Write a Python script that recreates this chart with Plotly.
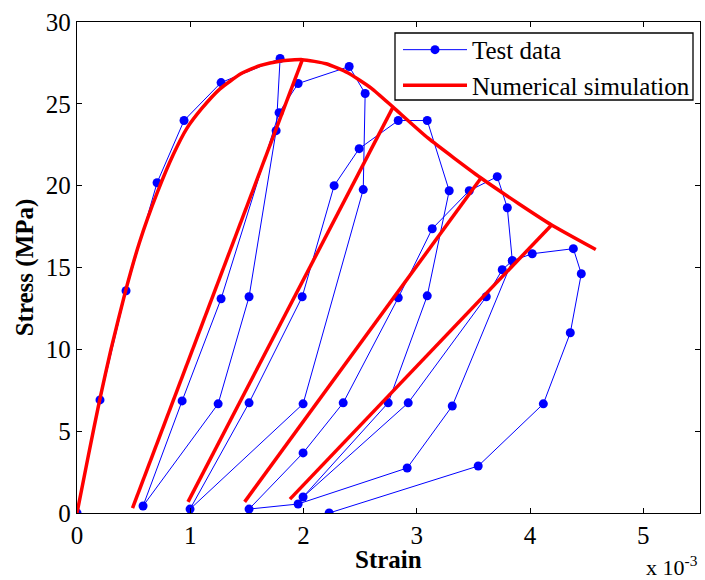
import plotly.graph_objects as go

# Test data (strain in 1e-3, stress in MPa), in plotting order
test_strain = [0.0, 0.203, 0.433, 0.707, 0.945, 1.272, 1.793, 1.758, 1.519, 1.246,
               0.583, 0.928, 1.272, 1.784, 1.952, 2.403, 2.544, 2.527, 1.996, 0.998,
               1.519, 1.988, 2.270, 2.491, 2.836, 3.092, 3.286, 3.092, 2.747, 1.996,
               2.924, 3.613, 3.754, 3.843, 3.313, 2.915, 1.952, 1.519, 1.996, 2.350,
               2.836, 3.136, 3.463, 3.710, 3.799, 3.843, 4.019, 4.382, 4.452, 4.355,
               4.117, 3.542, 2.226]
test_stress = [0.0, 6.91, 13.58, 20.18, 23.98, 26.30, 27.77, 23.36, 13.21, 6.67,
               0.43, 6.85, 13.09, 24.46, 26.24, 27.28, 25.63, 19.76, 6.67, 0.24,
               6.73, 13.21, 20.00, 22.26, 23.98, 23.98, 19.69, 13.27, 6.73, 0.98,
               6.73, 13.21, 14.86, 15.41, 6.54, 2.75, 0.55, 0.24, 3.67, 6.73,
               13.15, 17.37, 19.69, 20.55, 18.65, 15.41, 15.84, 16.15, 14.62, 11.01,
               6.67, 2.87, 0.0]

# Numerical simulation: envelope curve
env_strain = [0.0, 0.1, 0.2, 0.3, 0.43, 0.55, 0.71, 0.85, 0.97, 1.1, 1.26, 1.45, 1.62,
              1.8, 1.99, 2.2, 2.39, 2.6, 2.79, 3.1, 3.56, 3.9, 4.19, 4.58]
env_stress = [0.0, 3.5, 6.9, 10.0, 13.6, 16.5, 19.6, 21.9, 23.5, 24.7, 25.9, 26.85, 27.35,
              27.62, 27.7, 27.45, 26.9, 25.95, 24.8, 22.9, 20.5, 18.9, 17.6, 16.1]
# Numerical simulation: unloading branches (top point -> residual point)
unl_top_strain = [1.99, 2.79, 3.57, 4.19]
unl_top_stress = [27.7, 24.8, 20.5, 17.6]
unl_end_strain = [0.49, 0.98, 1.48, 1.88]
unl_end_stress = [0.30, 0.68, 0.68, 0.85]

x_ticks = [0, 1, 2, 3, 4, 5]
y_ticks = [0, 5, 10, 15, 20, 25, 30]

FONT = "Liberation Serif"
FS = 25

fig = go.Figure()
fig.add_trace(go.Scatter(
    x=test_strain, y=test_stress, mode="lines+markers", name="Test data",
    line=dict(color="#0000FF", width=1),
    marker=dict(color="#0000FF", size=9, symbol="circle"),
))
fig.add_trace(go.Scatter(
    x=env_strain, y=env_stress, mode="lines", name="Numerical simulation",
    line=dict(color="#FF0000", width=3.5, shape="spline", smoothing=0.5),
    legendgroup="sim",
))
for xs, ys, xe, ye in zip(unl_top_strain, unl_top_stress, unl_end_strain, unl_end_stress):
    fig.add_trace(go.Scatter(
        x=[xs, xe], y=[ys, ye], mode="lines", showlegend=False, legendgroup="sim",
        line=dict(color="#FF0000", width=3.5),
    ))

axis_common = dict(
    showline=True, linecolor="black", linewidth=1.3, mirror="ticks",
    ticks="inside", ticklen=5, tickcolor="black", tickwidth=1,
    showgrid=False, zeroline=False,
    tickfont=dict(family=FONT, size=FS, color="black"),
)

fig.update_layout(
    width=705, height=580,
    margin=dict(l=77, r=5, t=22, b=67),
    paper_bgcolor="white", plot_bgcolor="white",
    font=dict(family=FONT, size=FS, color="black"),
    xaxis=dict(range=[0, 5.5], tickvals=x_ticks, ticktext=[str(v) for v in x_ticks],
               **axis_common),
    yaxis=dict(range=[0, 30], tickvals=y_ticks, ticktext=[str(v) for v in y_ticks],
               title=dict(text="<b>Stress (MPa)</b>", font=dict(family=FONT, size=FS), standoff=5),
               **axis_common),
    legend=dict(x=(398 - 77) / 623, y=0.99, xanchor="left", yanchor="top",
                bgcolor="rgba(0,0,0,0)", borderwidth=0,
                font=dict(family=FONT, size=FS, color="black"),
                itemwidth=64, tracegroupgap=0),
    showlegend=True,
)

# legend frame
fig.add_shape(type="rect", xref="paper", yref="paper",
              x0=(395 - 77) / 623, x1=(693 - 77) / 623,
              y0=(513 - 100) / 491, y1=(513 - 33) / 491,
              line=dict(color="black", width=1.3), fillcolor="white", layer="above")

# x-axis title
fig.add_annotation(
    text="<b>Strain</b>", xref="paper", yref="paper", x=0.5, y=0, xanchor="center",
    yanchor="middle", yshift=-46, showarrow=False,
    font=dict(family=FONT, size=FS, color="black"),
)

fig.add_annotation(
    text="x 10<sup>-3</sup>", xref="paper", yref="paper", x=1.0, y=0, xanchor="right",
    yanchor="bottom", yshift=-69, showarrow=False,
    font=dict(family=FONT, size=22, color="black"),
)

fig.write_html("out.html")
